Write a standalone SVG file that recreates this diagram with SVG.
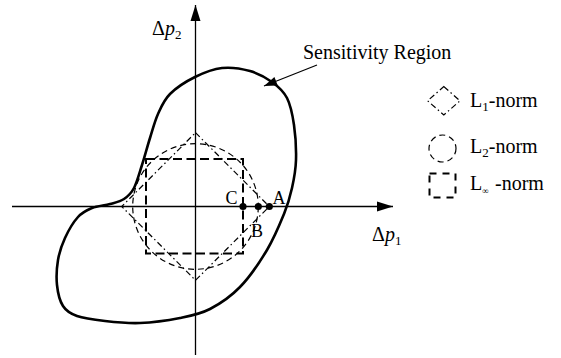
<svg xmlns="http://www.w3.org/2000/svg" width="561" height="358" viewBox="0 0 561 358">
<style>
text{font-family:"Liberation Serif","Times New Roman",serif;fill:#000}
.axis{stroke:#000;stroke-width:1.3;fill:none}
.region{stroke:#000;stroke-width:2.6;fill:none}
.linf{stroke:#000;stroke-width:2;fill:none;stroke-dasharray:9,4.5}
.l2{stroke:#000;stroke-width:1.2;fill:none;stroke-dasharray:6,4}
.l1{stroke:#000;stroke-width:1.2;fill:none;stroke-dasharray:6,3,1.5,3}
.it{font-style:italic}
</style>
<defs>
<marker id="ah" markerUnits="userSpaceOnUse" markerWidth="20" markerHeight="14" viewBox="-17 -7 18 14" refX="0" refY="0" orient="auto">
<path d="M0,0 L-16,-5 L-16,5 Z" fill="#000"/>
</marker>
<marker id="ahs" markerUnits="userSpaceOnUse" markerWidth="16" markerHeight="12" viewBox="-14 -6 15 12" refX="0" refY="0" orient="auto">
<path d="M0,0 L-13,-4.5 L-13,4.5 Z" fill="#000"/>
</marker>
</defs>
<g id="axes">
<line class="axis" x1="12" y1="206.5" x2="393" y2="206.5" marker-end="url(#ah)"/>
<line class="axis" x1="195.5" y1="355" x2="195.5" y2="5" marker-end="url(#ah)"/>
<text x="372" y="241" font-size="20">Δ<tspan class="it">p</tspan><tspan font-size="13" dy="4">1</tspan></text>
<text x="152" y="35" font-size="20">Δ<tspan class="it">p</tspan><tspan font-size="13" dy="4">2</tspan></text>
</g>
<g id="sensitivity-region">
<path class="region" d="M195,77 C203.7,72.7 212.8,69 222,68 C231.2,67 241.7,68.7 250,71 C258.3,73.3 265.8,77.5 272,82 C278.2,86.5 283.3,90.8 287,98 C290.7,105.2 292.5,114.7 294,125 C295.5,135.3 296.3,149.5 296,160 C295.7,170.5 294,179 292,188 C290,197 288.2,203.7 284,214 C279.8,224.3 274.3,237.8 267,250 C259.7,262.2 249.5,277.2 240,287 C230.5,296.8 220,303.8 210,309 C200,314.2 191.7,315.7 180,318 C168.3,320.3 152.5,322.5 140,323 C127.5,323.5 115.5,322.2 105,321 C94.5,319.8 84,318.5 77,316 C70,313.5 66.3,311.2 63,306 C59.7,300.8 57.8,292.7 57,285 C56.2,277.3 56.7,267.8 58,260 C59.3,252.2 61.7,245.2 65,238 C68.3,230.8 73.5,222 78,217 C82.5,212 86.7,210.2 92,208 C97.3,205.8 104.7,205.5 110,204 C115.3,202.5 120,201.7 124,199 C128,196.3 131,193.7 134,188 C137,182.3 139.3,173.3 142,165 C144.7,156.7 147.3,146.5 150,138 C152.7,129.5 154.7,121.3 158,114 C161.3,106.7 163.8,100.2 170,94 C176.2,87.8 186.3,81.3 195,77 Z"/>
<text x="303" y="59" font-size="20">Sensitivity Region</text>
</g>
<g id="connectors">
<line x1="317" y1="65" x2="264" y2="86" stroke="#000" stroke-width="1.2" marker-end="url(#ahs)"/>
</g>
<g id="l1-norm">
<path class="l1" d="M195.5,132.7 L269.3,206.5 L195.5,280.3 L121.7,206.5 Z"/>
</g>
<g id="l2-norm">
<circle class="l2" cx="195.5" cy="206.5" r="62.8"/>
</g>
<g id="linf-norm">
<rect class="linf" x="146" y="159" width="97" height="94.5"/>
</g>
<g id="points">
<circle cx="243" cy="206.5" r="3.6" fill="#000"/>
<circle cx="258.3" cy="206.5" r="3.6" fill="#000"/>
<circle cx="269.3" cy="206.5" r="3.6" fill="#000"/>
<text x="225.5" y="204" font-size="18">C</text>
<text x="272.5" y="204" font-size="18">A</text>
<text x="251" y="237" font-size="18">B</text>
</g>
<g id="legend">
<g id="legend-l1">
<path class="l1" d="M443.8,86.6 L460,100.8 L443.8,115 L427.6,100.8 Z"/>
<text x="470" y="107" font-size="20">L<tspan font-size="13" dy="4">1</tspan><tspan dy="-4">-norm</tspan></text>
</g>
<g id="legend-l2">
<circle class="l2" cx="442.5" cy="148.5" r="13.5"/>
<text x="470" y="153" font-size="20">L<tspan font-size="13" dy="4">2</tspan><tspan dy="-4">-norm</tspan></text>
</g>
<g id="legend-linf">
<rect class="linf" x="429.5" y="173.5" width="26" height="24" style="stroke-dasharray:7,6"/>
<text x="470" y="190" font-size="20">L<tspan font-size="9" dy="4">∞</tspan><tspan x="495" dy="-4">-norm</tspan></text>
</g>
</g>
</svg>
